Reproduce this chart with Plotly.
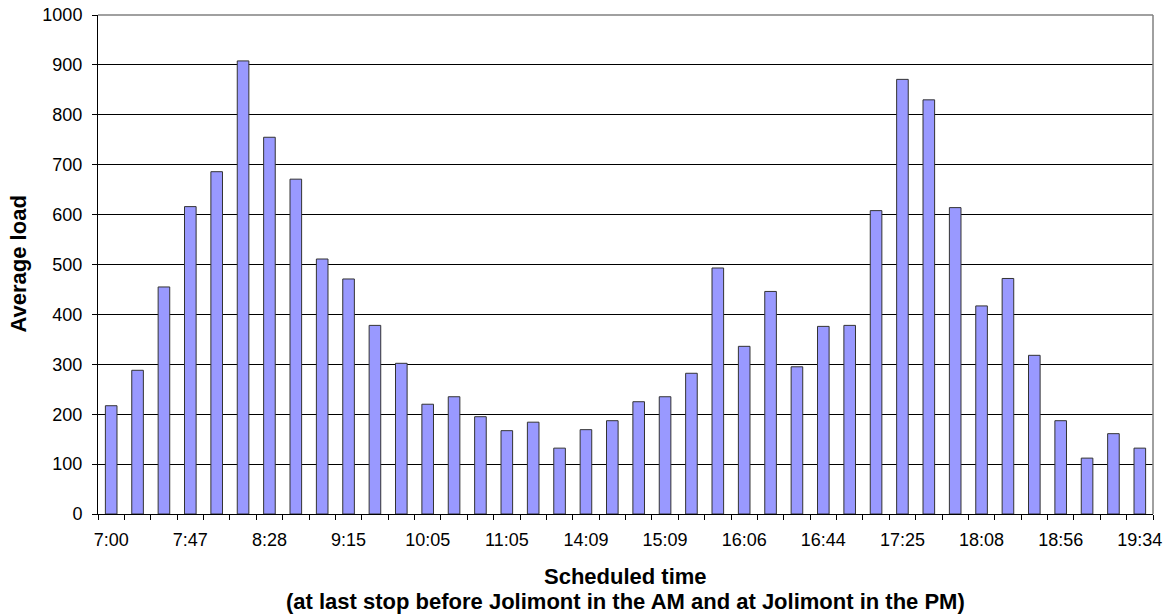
import plotly.graph_objects as go

# Average passenger load per scheduled trip, in timetable order
loads = [217, 288, 455, 616, 686, 908, 755, 671, 511, 471,
         378, 302, 220, 235, 195, 167, 184, 132, 169, 187,
         225, 235, 282, 493, 336, 446, 295, 376, 378, 608,
         871, 830, 614, 417, 472, 318, 187, 112, 161, 132]

# Every third trip carries a time label on the axis
tick_labels = ["7:00", "7:47", "8:28", "9:15", "10:05", "11:05", "14:09",
               "15:09", "16:06", "16:44", "17:25", "18:08", "18:56", "19:34"]
label_step = 3

x_title = "Scheduled time"
x_subtitle = "(at last stop before Jolimont in the AM and at Jolimont in the PM)"
y_title = "Average load"

positions = list(range(len(loads)))
tick_positions = positions[::label_step]

FONT = "Liberation Sans, Arial, sans-serif"

fig = go.Figure(
    go.Bar(
        x=positions,
        y=loads,
        marker=dict(color="#9999FF", line=dict(color="#333333", width=1)),
        hoverinfo="y",
    )
)

fig.update_layout(
    width=1166,
    height=615,
    margin=dict(l=98, r=13, t=15, b=101),
    paper_bgcolor="white",
    plot_bgcolor="white",
    bargap=0.56,
    showlegend=False,
    font=dict(family=FONT, size=18, color="black"),
)

fig.update_xaxes(
    range=[-0.5, len(loads) - 0.5],
    automargin=False,
    tickmode="array",
    tickvals=tick_positions,
    ticktext=tick_labels,
    ticks="outside",
    ticklen=5,
    tickcolor="rgba(0,0,0,0)",
    ticklabelstandoff=4,
    minor=dict(tickmode="linear", tick0=-0.5, dtick=1, ticks="outside",
               ticklen=5, tickcolor="black", tickwidth=1, showgrid=False),
    showline=True,
    linecolor="black",
    linewidth=1,
    showgrid=False,
    zeroline=False,
    tickfont=dict(family=FONT, size=18, color="black"),
)

fig.update_yaxes(
    range=[0, 1000],
    automargin=False,
    tickmode="linear",
    tick0=0,
    dtick=100,
    ticks="outside",
    ticklen=5,
    tickcolor="black",
    ticklabelstandoff=6,
    showline=True,
    linecolor="black",
    linewidth=1,
    showgrid=True,
    gridcolor="black",
    gridwidth=1,
    zeroline=False,
    tickfont=dict(family=FONT, size=18, color="black"),
)

# Grey frame on the top and right sides of the plot area
fig.add_shape(type="line", xref="paper", yref="paper", x0=0, x1=1, y0=1, y1=1,
              line=dict(color="#808080", width=1.5), layer="above")
fig.add_shape(type="line", xref="paper", yref="paper", x0=1, x1=1, y0=0, y1=1,
              line=dict(color="#808080", width=1.5), layer="above")

title_font = dict(family=FONT, size=22, color="black")

fig.add_annotation(
    text=f"<b>{y_title}</b>",
    xref="paper", yref="paper", x=0, y=0.5,
    xanchor="center", yanchor="middle", xshift=-80,
    textangle=-90, showarrow=False,
    font=title_font,
)

fig.add_annotation(
    text=f"<b>{x_title}</b>",
    xref="paper", yref="paper", x=0.5, y=0,
    xanchor="center", yanchor="middle", yshift=-62,
    showarrow=False,
    font=title_font,
)

fig.add_annotation(
    text=f"<b>{x_subtitle}</b>",
    xref="paper", yref="paper", x=0.5, y=0,
    xanchor="center", yanchor="middle", yshift=-87,
    showarrow=False,
    font=title_font,
)

fig.write_html("out.html")
